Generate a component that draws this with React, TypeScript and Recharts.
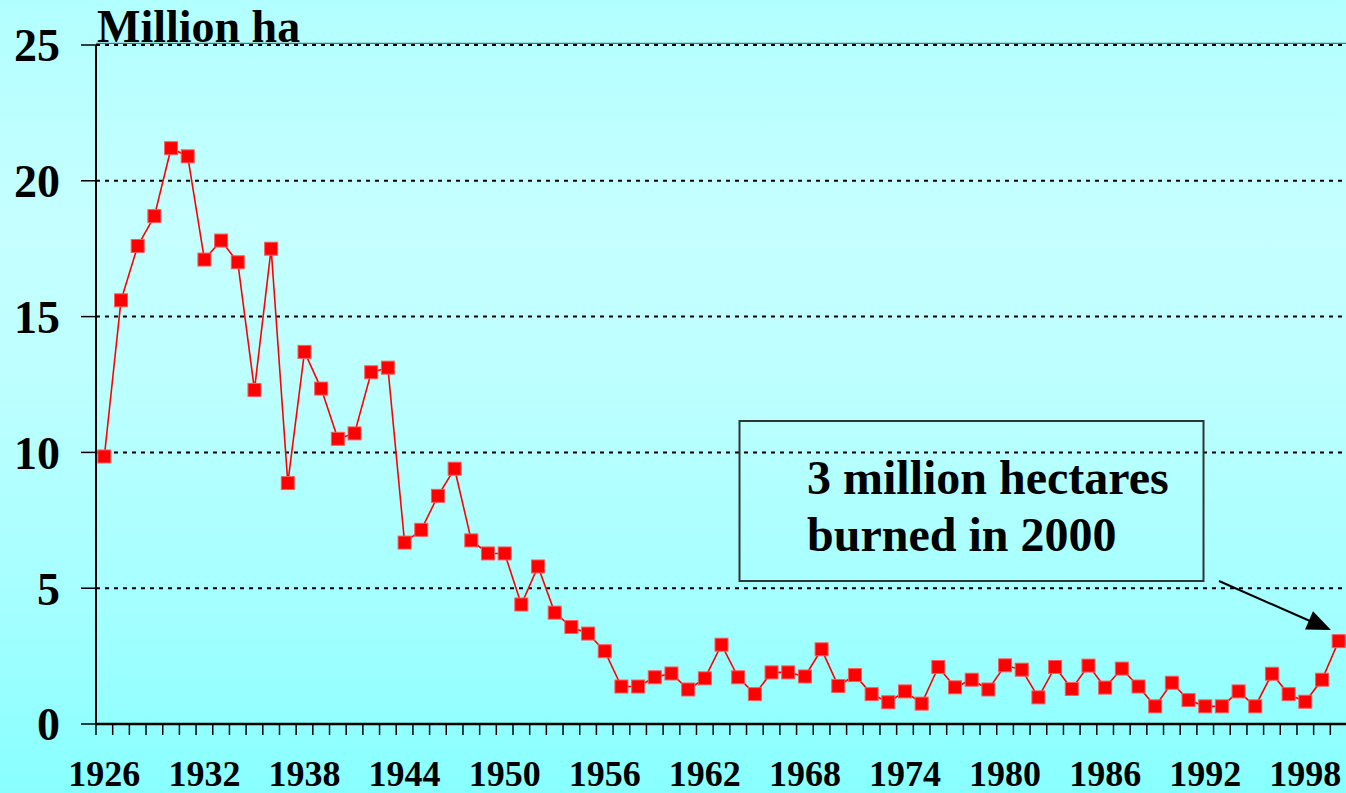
import React from "react";
import { LineChart, Line, XAxis, YAxis, CartesianGrid, ReferenceLine } from "recharts";

const years = [
  1926, 1927, 1928, 1929, 1930, 1931, 1932, 1933, 1934, 1935,
  1936, 1937, 1938, 1939, 1940, 1941, 1942, 1943, 1944, 1945,
  1946, 1947, 1948, 1949, 1950, 1951, 1952, 1953, 1954, 1955,
  1956, 1957, 1958, 1959, 1960, 1961, 1962, 1963, 1964, 1965,
  1966, 1967, 1968, 1969, 1970, 1971, 1972, 1973, 1974, 1975,
  1976, 1977, 1978, 1979, 1980, 1981, 1982, 1983, 1984, 1985,
  1986, 1987, 1988, 1989, 1990, 1991, 1992, 1993, 1994, 1995,
  1996, 1997, 1998, 1999, 2000,
];

const burnedMillionHa = [
  9.85, 15.6, 17.6, 18.7, 21.2, 20.9, 17.1, 17.8, 17.0, 12.3,
  17.5, 8.87, 13.7, 12.35, 10.5, 10.7, 12.95, 13.12, 6.68, 7.15,
  8.4, 9.4, 6.76, 6.28, 6.28, 4.4, 5.8, 4.1, 3.57, 3.33,
  2.68, 1.38, 1.38, 1.72, 1.86, 1.27, 1.68, 2.92, 1.72, 1.1,
  1.9, 1.9, 1.75, 2.75, 1.4, 1.8, 1.1, 0.8, 1.2, 0.75,
  2.1, 1.35, 1.63, 1.27, 2.16, 2.0, 0.98, 2.1, 1.29, 2.15,
  1.34, 2.04, 1.38, 0.65, 1.52, 0.88, 0.65, 0.65, 1.2, 0.65,
  1.85, 1.1, 0.82, 1.63, 3.05,
];

const yearLabels = [1926, 1932, 1938, 1944, 1950, 1956, 1962, 1968, 1974, 1980, 1986, 1992, 1998];
const valueTicks = [0, 5, 10, 15, 20, 25];

const data = years.map((year, i) => ({ year, burned: burnedMillionHa[i] }));
const yearBoundaries = years.map((y) => y - 0.5);

const FONT = '"Liberation Serif", "Times New Roman", serif';

const SquareDot = (props: any) => {
  const { cx, cy, index } = props;
  if (cx == null || cy == null) return null;
  return (
    <rect
      key={`sq-${index}`}
      x={cx - 6.5}
      y={cy - 6.5}
      width={13}
      height={13}
      fill="#ff0000"
      stroke="#ff5a5a"
      strokeWidth={1}
    />
  );
};

const EmptyTick = () => <g />;

const YearLabel = (props: any) => {
  const { x, y, payload } = props;
  return (
    <text
      x={x}
      y={y}
      dy={50}
      textAnchor="middle"
      fontFamily={FONT}
      fontWeight="bold"
      fontSize={36}
      fill="#000"
    >
      {payload.value}
    </text>
  );
};

export default function App() {
  return (
    <div
      style={{
        position: "absolute",
        left: 0,
        top: 0,
        width: 1346,
        height: 793,
        overflow: "hidden",
        background:
          "linear-gradient(to bottom, #b2ffff 0%, #c6ffff 28%, #bcffff 50%, #a6ffff 75%, #88ffff 100%)",
      }}
    >
      <LineChart
        width={1346}
        height={793}
        data={data}
        margin={{ top: 45, right: 0, bottom: 0, left: 0 }}
      >
        <CartesianGrid
          xAxisId={0}
          vertical={false}
          stroke="#000"
          strokeDasharray="4 5"
          strokeWidth={2}
        />
        <ReferenceLine
          xAxisId={0}
          y={25.06}
          stroke="#3f7f7f"
          strokeWidth={1.2}
          ifOverflow="visible"
        />
        <XAxis
          xAxisId={0}
          dataKey="year"
          type="number"
          domain={[1925.5, 2000.44]}
          ticks={yearBoundaries}
          interval={0}
          tick={<EmptyTick />}
          tickSize={11}
          height={12}
          axisLine={{ stroke: "#000", strokeWidth: 2.5 }}
          tickLine={{ stroke: "#000", strokeWidth: 1.5 }}
        />
        <XAxis
          xAxisId={1}
          dataKey="year"
          type="number"
          domain={[1925.5, 2000.44]}
          ticks={yearLabels}
          interval={0}
          tick={<YearLabel />}
          tickLine={false}
          axisLine={false}
          tickSize={0}
          tickMargin={0}
          height={57}
        />
        <YAxis
          domain={[0, 25]}
          ticks={valueTicks}
          interval={0}
          width={96}
          tickSize={15}
          tickMargin={21}
          axisLine={{ stroke: "#000", strokeWidth: 2 }}
          tickLine={{ stroke: "#000", strokeWidth: 1.5 }}
          tick={{ fontFamily: FONT, fontWeight: "bold", fontSize: 46, fill: "#000" }}
        />
        <Line
          xAxisId={0}
          dataKey="burned"
          type="linear"
          stroke="#ff0000"
          strokeWidth={1.6}
          dot={<SquareDot />}
          activeDot={false}
          isAnimationActive={false}
        />
      </LineChart>
      <svg
        width={1346}
        height={793}
        style={{ position: "absolute", left: 0, top: 0, pointerEvents: "none" }}
      >
        <text x={97} y={42} fontFamily={FONT} fontWeight="bold" fontSize={46} fill="#000">
          Million ha
        </text>
        <rect x={739.5} y={421} width={464} height={160} fill="none" stroke="#333" strokeWidth={2} />
        <text x={807} y={494} fontFamily={FONT} fontWeight="bold" fontSize={48} fill="#000">
          3 million hectares
        </text>
        <text x={807} y={551} fontFamily={FONT} fontWeight="bold" fontSize={48} fill="#000">
          burned in 2000
        </text>
        <line x1={1219} y1={581} x2={1310} y2={621} stroke="#000" strokeWidth={2} />
        <polygon points="1331,630 1305,629.6 1313,611.2" fill="#000" />
      </svg>
    </div>
  );
}
